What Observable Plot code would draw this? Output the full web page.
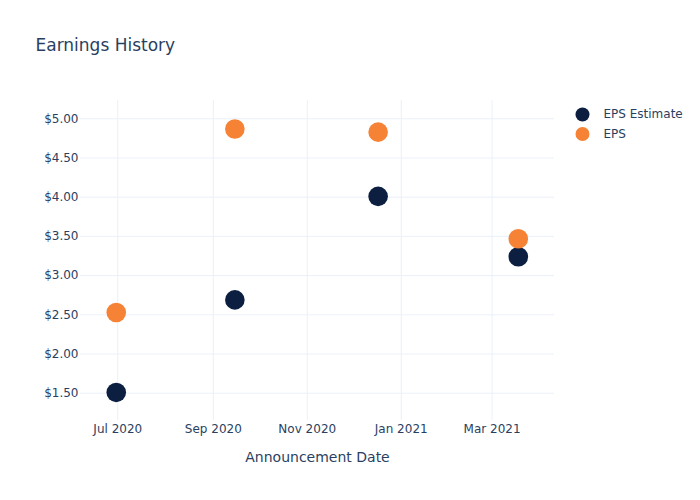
<!DOCTYPE html>
<html>
<head>
<meta charset="utf-8">
<script src="https://cdn.jsdelivr.net/npm/d3@7"></script>
<script src="https://cdn.jsdelivr.net/npm/@observablehq/plot@0.6"></script>
<style>
  html, body { margin: 0; padding: 0; background: #fff; }
  #chart svg { display: block; }
</style>
</head>
<body>
<div id="chart"></div>
<script>
// Data
const announcementDates = ["2020-06-30", "2020-09-15", "2020-12-17", "2021-03-18"];
const epsEstimate = [1.51, 2.69, 4.01, 3.24];
const epsActual = [2.53, 4.87, 4.83, 3.47];
const seriesNames = ["EPS Estimate", "EPS"];
const seriesColors = ["#0c1f40", "#f68235"];
const xTickDates = ["2020-07-01", "2020-09-01", "2020-11-01", "2021-01-01", "2021-03-01"];
const yTickValues = [1.5, 2, 2.5, 3, 3.5, 4, 4.5, 5];
const titleText = "Earnings History";
const xAxisTitle = "Announcement Date";

const parse = d3.utcParse("%Y-%m-%d");
const rows = [];
announcementDates.forEach((d, i) => {
  rows.push({date: parse(d), value: epsEstimate[i], series: seriesNames[0]});
});
announcementDates.forEach((d, i) => {
  rows.push({date: parse(d), value: epsActual[i], series: seriesNames[1]});
});
const xTicks = xTickDates.map(parse);
const textColor = "#2a3f5f";
const gridColor = "#ebf0f8";
const font = "'DejaVu Sans', sans-serif";
const legendItems = seriesNames.map((name, i) => ({name, i}));

const chart = Plot.plot({
  width: 700,
  height: 500,
  marginLeft: 80,
  marginRight: 146,
  marginTop: 100,
  marginBottom: 80,
  style: {fontFamily: font, color: textColor, background: "#fff"},
  x: {type: "utc", domain: [new Date(Date.UTC(2020, 5, 6, 19)), new Date(Date.UTC(2021, 3, 10, 12))]},
  y: {domain: [1.152, 5.233]},
  color: {domain: seriesNames, range: seriesColors},
  marks: [
    Plot.gridX(xTicks, {stroke: gridColor, strokeOpacity: 1, strokeWidth: 1}),
    Plot.gridY(yTickValues, {stroke: gridColor, strokeOpacity: 1, strokeWidth: 1}),
    Plot.axisY(yTickValues, {
      tickSize: 0, tickPadding: 2, fontSize: 12, fill: textColor,
      tickFormat: d => "$" + d.toFixed(2), label: null
    }),
    Plot.axisX(xTicks, {
      tickSize: 0, tickPadding: 4, fontSize: 12, fill: textColor,
      tickFormat: d3.utcFormat("%b %Y"), label: null
    }),
    Plot.dot(rows, {x: "date", y: "value", fill: "series", r: 9.8, stroke: "none"}),
    Plot.text([xAxisTitle], {
      frameAnchor: "bottom", dy: 41, lineAnchor: "bottom", textAnchor: "middle",
      fontSize: 14, fill: textColor
    }),
    Plot.text([titleText], {
      frameAnchor: "top-left", dx: -45, dy: -50, lineAnchor: "bottom", textAnchor: "start",
      fontSize: 17, fill: textColor
    }),
    // legend
    Plot.dot(legendItems.slice(0, 1), {
      frameAnchor: "top-right", dx: 28, dy: 14, r: 7, fill: seriesColors[0], stroke: "none"
    }),
    Plot.dot(legendItems.slice(1, 2), {
      frameAnchor: "top-right", dx: 28, dy: 33.5, r: 7, fill: seriesColors[1], stroke: "none"
    }),
    Plot.text(legendItems.slice(0, 1), {
      text: "name", frameAnchor: "top-right", dx: 49, dy: 14, textAnchor: "start",
      lineAnchor: "middle", fontSize: 12, fill: textColor
    }),
    Plot.text(legendItems.slice(1, 2), {
      text: "name", frameAnchor: "top-right", dx: 49, dy: 33.5, textAnchor: "start",
      lineAnchor: "middle", fontSize: 12, fill: textColor
    })
  ]
});

document.getElementById("chart").appendChild(chart);
</script>
</body>
</html>
